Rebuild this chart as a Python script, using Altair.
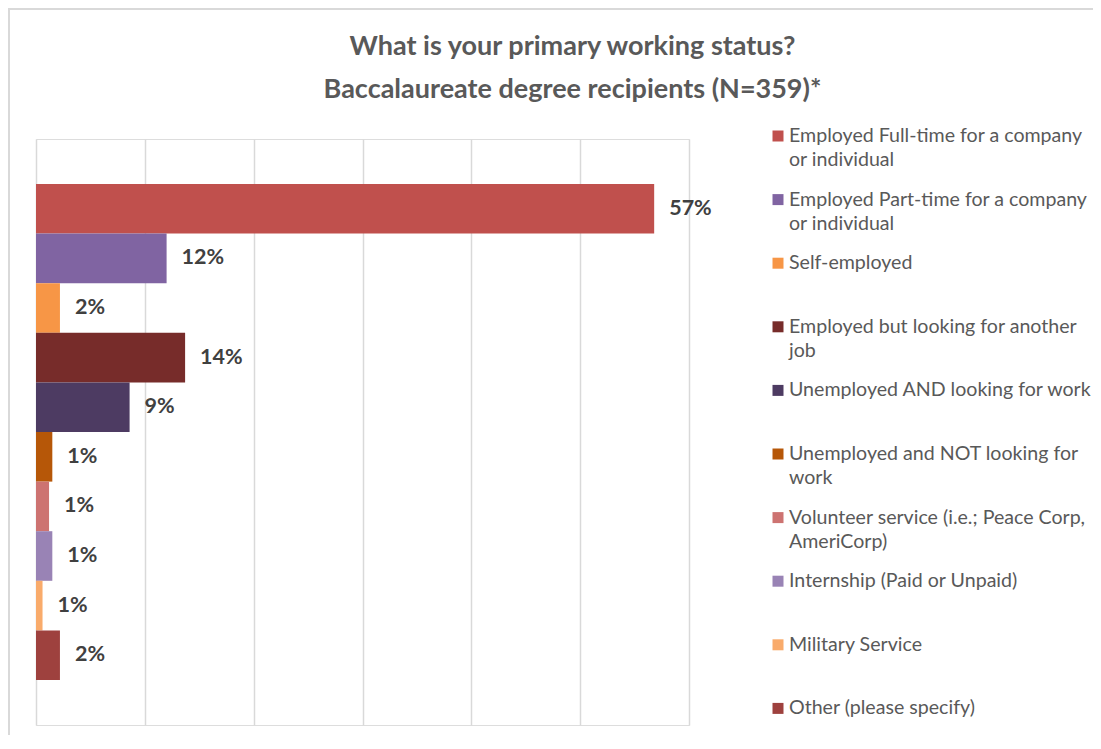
import altair as alt
import pandas as pd

categories = [
    "Employed Full-time", "Employed Part-time", "Self-employed",
    "Employed but looking", "Unemployed AND looking", "Unemployed NOT looking",
    "Volunteer service", "Internship", "Military Service", "Other",
]
values = [56.8, 12.0, 2.2, 13.7, 8.6, 1.5, 1.2, 1.5, 0.6, 2.2]
value_labels = ["57%", "12%", "2%", "14%", "9%", "1%", "1%", "1%", "1%", "2%"]
legend_labels = [
    "Employed Full-time for a company\nor individual",
    "Employed Part-time for a company\nor individual",
    "Self-employed",
    "Employed but looking for another\njob",
    "Unemployed AND looking for work",
    "Unemployed and NOT looking for\nwork",
    "Volunteer service (i.e.; Peace Corp,\nAmeriCorp)",
    "Internship (Paid or Unpaid)",
    "Military Service",
    "Other (please specify)",
]
colors = ["#C0504D", "#8064A2", "#F79646", "#772C2A", "#4D3B62",
          "#B65708", "#CD7371", "#9983B5", "#F9AB6B", "#9E413E"]
gridlines = [0, 10, 20, 30, 40, 50, 60]

df = pd.DataFrame({"cat": categories, "value": values,
                   "label": value_labels, "legend": legend_labels})

FONT = "Lato"
color = alt.Color("cat:N", scale=alt.Scale(domain=categories, range=colors), legend=None)
yband = alt.Y("cat:N", sort=categories,
              scale=alt.Scale(type="band", domain=categories, paddingInner=0,
                              paddingOuter=0.907),
              axis=None)
xq = alt.X("value:Q", scale=alt.Scale(domain=[0, 60], nice=False),
           axis=alt.Axis(values=gridlines, grid=True, labels=False, ticks=False,
                         domain=False, title=None, gridColor="#d9d9d9", gridWidth=1.5))

base = alt.Chart(df)

frame = base.mark_rect(fill="transparent", stroke="#d9d9d9", strokeWidth=2).encode(
    x=alt.value(-27), x2=alt.value(1200), y=alt.value(-130), y2=alt.value(900)
).transform_filter(alt.datum.cat == categories[0])

bars = base.mark_bar().encode(x=xq, y=yband, color=color)

labels = base.mark_text(align="left", baseline="middle", dx=15, font=FONT,
                        fontSize=21.5, fontWeight="bold", color="#404040").encode(
    x="value:Q", y=yband, text="label:N")

main = alt.layer(bars, labels)

ypt = alt.Y("cat:N", sort=categories,
            scale=alt.Scale(type="point", domain=categories, range=[-3, 569.4], padding=0),
            axis=None)

leg_sq = base.mark_square(size=121, opacity=1).encode(
    x=alt.value(742), y=ypt, color=color)

leg_txt = base.mark_text(align="left", baseline="top", dy=-9, font=FONT, fontSize=19.6,
                         lineHeight=24, lineBreak="\n", color="#595959").encode(
    x=alt.value(753), y=ypt, text="legend:N")

legend = alt.layer(leg_sq, leg_txt)

chart = alt.layer(frame, main, legend).resolve_scale(
    y="independent"
).properties(
    width=653, height=586,
    autosize=alt.AutoSizeParams(type="none"),
    padding={"left": 28, "top": 131, "right": 404, "bottom": 10},
    title=alt.TitleParams(
        text=["What is your primary working status?",
              "Baccalaureate degree recipients (N=359)*"],
        fontSize=27, fontWeight="bold", color="#595959", font=FONT,
        anchor="middle", frame="group", dx=210, offset=-123, lineHeight=43,
        baseline="bottom"),
).configure_view(strokeWidth=0).configure(font=FONT, background="white")

chart.save("out.html", embed_options={"renderer": "svg", "actions": False})
